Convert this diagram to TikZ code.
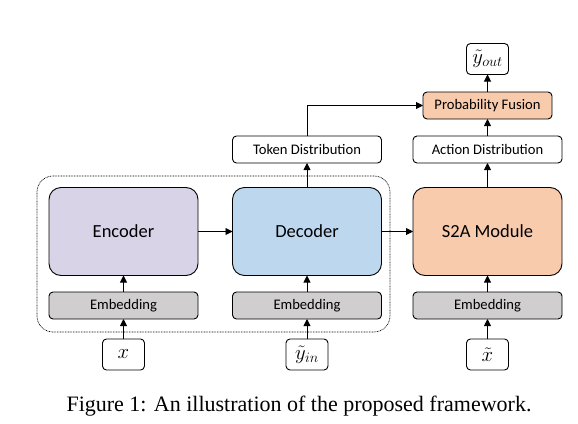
\documentclass[tikz,border=0pt]{standalone}
\usepackage{fontspec}
\setmainfont{Carlito}
\newfontfamily\capfont{Liberation Serif}
\usetikzlibrary{arrows.meta}
\definecolor{encC}{HTML}{D9D3E8}
\definecolor{decC}{HTML}{BDD7EE}
\definecolor{s2aC}{HTML}{F8CBAD}
\definecolor{embC}{HTML}{D0CECE}
\tikzset{
  base/.style={draw=black, line width=0.9pt, inner sep=0pt, outer sep=0pt, text=black},
  bigbox/.style={base, rounded corners=12pt, minimum width=149pt, minimum height=88pt, font=\fontsize{18.5}{20}\selectfont},
  smallbox/.style={base, rounded corners=4pt, minimum width=149pt, minimum height=27pt, font=\fontsize{14.6}{16}\selectfont},
  embbox/.style={smallbox, fill=embC},
  inbox/.style={base, rounded corners=4pt, minimum width=42pt, minimum height=31pt, font=\fontsize{20}{22}\selectfont},
  arr/.style={line width=0.9pt, -{Triangle[length=7pt,width=7pt]}},
}
\begin{document}
\begin{tikzpicture}[x=1pt,y=-1pt]
\useasboundingbox (0,0) rectangle (578,423);
% dotted group
\node[draw=black, line width=0.7pt, dash pattern=on 0.8pt off 0.8pt, rounded corners=16pt, minimum width=353pt, minimum height=156pt, inner sep=0pt] (grp) at (213.5,254) {};
% big boxes
\node[bigbox, fill=encC] (enc) at (123.5,231.5) {Encoder};
\node[bigbox, fill=decC] (dec) at (307,231.5) {Decoder};
\node[bigbox, fill=s2aC] (s2a) at (487.5,231.5) {S2A Module};
% embeddings
\node[embbox] (embE) at (123.5,305.5) {Embedding};
\node[embbox] (embD) at (307,305.5) {Embedding};
\node[embbox] (embS) at (487.5,305.5) {Embedding};
% distributions
\node[smallbox, fill=white] (tok) at (307,149.5) {Token Distribution};
\node[smallbox, fill=white] (act) at (487.5,149.5) {Action Distribution};
\node[smallbox, fill=s2aC, minimum width=129pt] (fus) at (487.5,105.5) {Probability Fusion};
% inputs / output
\node[inbox] (yout) at (487.5,59) {$\tilde{y}_{out}$};
\node[inbox] (xin) at (123.5,354.5) {$x$};
\node[inbox] (yin) at (307,354.5) {$\tilde{y}_{in}$};
\node[inbox] (xt) at (487.5,354.5) {$\tilde{x}$};
% arrows
\draw[arr] (xin) -- (embE);
\draw[arr] (embE) -- (enc);
\draw[arr] (yin) -- (embD);
\draw[arr] (embD) -- (dec);
\draw[arr] (xt) -- (embS);
\draw[arr] (embS) -- (s2a);
\draw[arr] (enc) -- (dec);
\draw[arr] (dec) -- (s2a);
\draw[arr] (dec) -- (tok);
\draw[arr] (s2a) -- (act);
\draw[arr] (act) -- (fus);
\draw[arr] (fus) -- (yout);
\draw[arr] (tok.north) |- (fus.west);
% caption
\node[font=\capfont\fontsize{22}{25}\selectfont, inner sep=0pt, anchor=base] (cap) at (299,411) {Figure 1: An illustration of the proposed framework.};
\end{tikzpicture}
\end{document}
